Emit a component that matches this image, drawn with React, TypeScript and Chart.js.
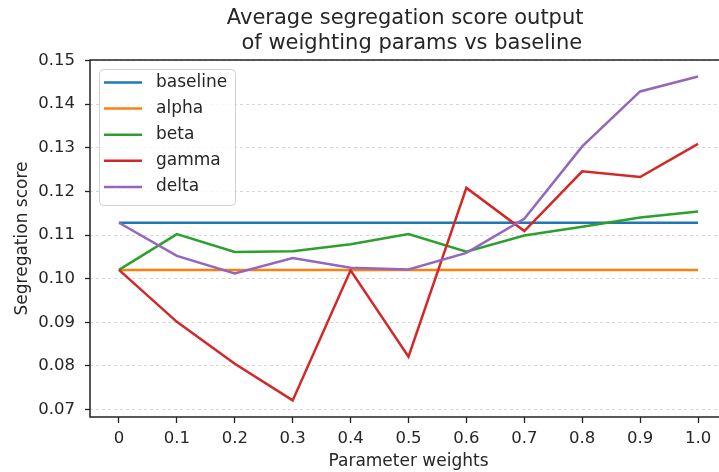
import React, { useEffect, useRef } from "react";
import { Chart, registerables } from "chart.js";

Chart.register(...registerables);

const categories = ["0", "0.1", "0.2", "0.3", "0.4", "0.5", "0.6", "0.7", "0.8", "0.9", "1.0"];
const baseline = [0.1128, 0.1128, 0.1128, 0.1128, 0.1128, 0.1128, 0.1128, 0.1128, 0.1128, 0.1128, 0.1128];
const alpha = [0.102, 0.102, 0.102, 0.102, 0.102, 0.102, 0.102, 0.102, 0.102, 0.102, 0.102];
const beta = [0.102, 0.1102, 0.1061, 0.1063, 0.1079, 0.1102, 0.1062, 0.1099, 0.1119, 0.114, 0.1154];
const gamma = [0.102, 0.0901, 0.0805, 0.0721, 0.1019, 0.0821, 0.1208, 0.1109, 0.1246, 0.1233, 0.1309];
const delta = [0.1128, 0.1052, 0.1012, 0.1047, 0.1025, 0.1021, 0.1059, 0.1137, 0.1303, 0.1429, 0.1463];
const yTicks = [0.07, 0.08, 0.09, 0.1, 0.11, 0.12, 0.13, 0.14, 0.15];

const seriesNames = ["baseline", "alpha", "beta", "gamma", "delta"];
const seriesValues = [baseline, alpha, beta, gamma, delta];
const colors = ["#1f77b4", "#ff7f0e", "#2ca02c", "#d62728", "#9467bd"];

const titleLines = ["Average segregation score output ", " of weighting params vs baseline"];
const xLabel = "Parameter weights";
const yLabel = "Segregation score";

const FONT = "'DejaVu Sans', sans-serif";
const TEXT = "#262626";

const decorPlugin = {
  id: "decor",
  afterDatasetsDraw(chart: any) {
    const { ctx, chartArea } = chart;
    const { left, right, top, bottom } = chartArea;
    ctx.save();
    // spines
    ctx.strokeStyle = "#222";
    ctx.lineWidth = 1.5;
    ctx.strokeRect(left, top, right - left, bottom - top);

    // legend
    const bx = 99.5, by = 69.5, bw = 136, bh = 136, r = 4;
    ctx.beginPath();
    ctx.moveTo(bx + r, by);
    ctx.lineTo(bx + bw - r, by);
    ctx.quadraticCurveTo(bx + bw, by, bx + bw, by + r);
    ctx.lineTo(bx + bw, by + bh - r);
    ctx.quadraticCurveTo(bx + bw, by + bh, bx + bw - r, by + bh);
    ctx.lineTo(bx + r, by + bh);
    ctx.quadraticCurveTo(bx, by + bh, bx, by + bh - r);
    ctx.lineTo(bx, by + r);
    ctx.quadraticCurveTo(bx, by, bx + r, by);
    ctx.closePath();
    ctx.fillStyle = "rgba(255,255,255,0.8)";
    ctx.fill();
    ctx.strokeStyle = "#d0d0d0";
    ctx.lineWidth = 1;
    ctx.stroke();

    ctx.font = `17px ${FONT}`;
    ctx.textAlign = "left";
    ctx.textBaseline = "middle";
    seriesNames.forEach((name, i) => {
      const yy = 82.5 + i * 26.1;
      ctx.strokeStyle = colors[i];
      ctx.lineWidth = 2.5;
      ctx.beginPath();
      ctx.moveTo(104, yy);
      ctx.lineTo(142, yy);
      ctx.stroke();
      ctx.fillStyle = TEXT;
      ctx.fillText(name, 156, yy);
    });

    // title
    const cx = (left + right) / 2;
    ctx.font = `21px ${FONT}`;
    ctx.textAlign = "center";
    ctx.textBaseline = "alphabetic";
    ctx.fillStyle = TEXT;
    ctx.fillText(titleLines[0], cx, 24);
    ctx.fillText(titleLines[1], cx, 48.5);

    // axis titles
    ctx.font = `17px ${FONT}`;
    ctx.fillText(xLabel, cx, 466);
    ctx.save();
    ctx.translate(27, (top + bottom) / 2);
    ctx.rotate(-Math.PI / 2);
    ctx.fillText(yLabel, 0, 0);
    ctx.restore();
    ctx.restore();
  },
};

export default function App() {
  const ref = useRef<HTMLCanvasElement | null>(null);
  useEffect(() => {
    document.body.style.margin = "0";
    document.body.style.overflow = "hidden";
    const canvas = ref.current!;
    const chart = new Chart(canvas, {
      type: "line",
      data: {
        datasets: seriesNames.map((name, i) => ({
          label: name,
          data: seriesValues[i].map((v, k) => ({ x: k, y: v })),
          borderColor: colors[i],
          backgroundColor: colors[i],
          borderWidth: 2.5,
          pointRadius: 0,
          tension: 0,
          fill: false,
          order: seriesNames.length - i,
        })),
      },
      options: {
        animation: false,
        responsive: false,
        devicePixelRatio: 1,
        layout: { padding: { top: 60, right: 13, left: 0, bottom: 0 } },
        plugins: { legend: { display: false }, title: { display: false }, tooltip: { enabled: false } },
        scales: {
          x: {
            type: "linear",
            min: -0.5,
            max: 10.5,
            afterFit: (s: any) => {
              s.height = 55;
            },
            afterBuildTicks: (s: any) => {
              s.ticks = categories.map((_, k) => ({ value: k }));
            },
            ticks: {
              callback: (v: any) => categories[Math.round(Number(v))],
              color: TEXT,
              font: { family: FONT, size: 16.5 },
              padding: 6,
              maxRotation: 0,
              autoSkip: false,
            },
            grid: { drawOnChartArea: false, drawTicks: true, tickLength: 6, tickColor: "#222", tickWidth: 1.3 },
            border: { display: false },
          },
          y: {
            type: "linear",
            min: 0.0683,
            max: 0.1501,
            afterFit: (s: any) => {
              s.width = 90;
            },
            afterBuildTicks: (s: any) => {
              s.ticks = yTicks.map((v) => ({ value: v }));
            },
            ticks: {
              callback: (v: any) => Number(v).toFixed(2),
              color: TEXT,
              font: { family: FONT, size: 16.5 },
              padding: 10,
            },
            grid: { color: "#cfcfcf", lineWidth: 0.8, drawTicks: true, tickLength: 5, tickColor: "#222", tickWidth: 1.3 },
            border: { display: false, dash: [3, 3] },
          },
        },
      },
      plugins: [decorPlugin],
    });
    return () => chart.destroy();
  }, []);
  return (
    <div style={{ position: "relative", width: 740, height: 472 }}>
      <canvas ref={ref} width={740} height={472} style={{ display: "block" }} />
    </div>
  );
}
